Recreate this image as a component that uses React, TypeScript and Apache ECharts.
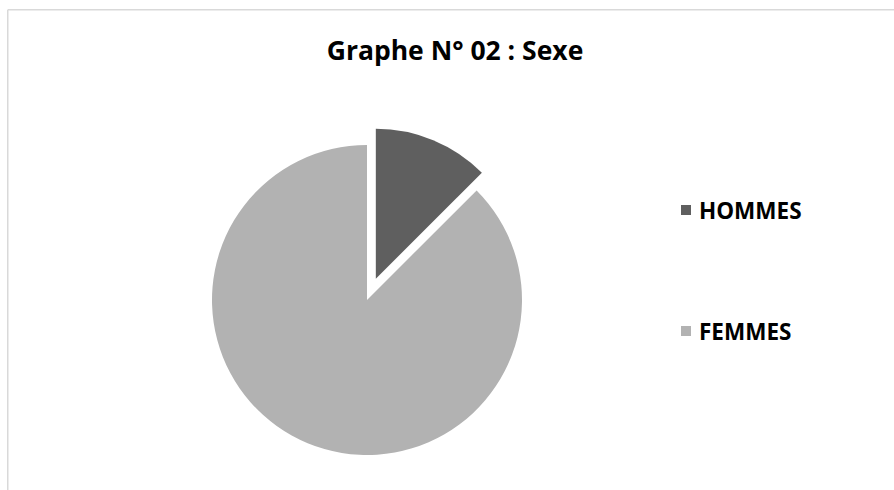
import React, { useEffect, useRef } from "react";
import * as echarts from "echarts";

const categories = ["HOMMES", "FEMMES"];
const values = [5, 35];
const colors = ["#5f5f5f", "#b2b2b2"];
const titleText = "Graphe N° 02 : Sexe";

export default function App() {
  const ref = useRef<HTMLDivElement>(null);
  useEffect(() => {
    if (!ref.current) return;
    const chart = echarts.init(ref.current, undefined, { renderer: "svg" });
    const makeData = (visibleIndex: number) =>
      categories.map((name, i) => ({
        name,
        value: values[i],
        selected: i === 0,
        itemStyle: { color: i === visibleIndex ? colors[i] : "rgba(0,0,0,0)" },
      }));
    chart.setOption({
      animation: false,
      backgroundColor: "#ffffff",
      color: colors,
      legend: {
        orient: "vertical",
        left: 676,
        top: 193,
        itemWidth: 10,
        itemHeight: 10,
        itemGap: 97,
        icon: "rect",
        selectedMode: false,
        data: categories.map((name, i) => ({ name, itemStyle: { color: colors[i] } })),
        textStyle: {
          fontFamily: "Open Sans",
          fontWeight: "bold",
          fontSize: 22.5,
          lineHeight: 24,
          color: "#000000",
          padding: [0, 0, 0, 3],
        },
      },
      graphic: [
        {
          type: "line",
          shape: { x1: 7.75, y1: 9.75, x2: 894, y2: 9.75 },
          style: { stroke: "#d9d9d9", lineWidth: 1.5 },
        },
        {
          type: "line",
          shape: { x1: 7.75, y1: 9.75, x2: 7.75, y2: 490 },
          style: { stroke: "#d9d9d9", lineWidth: 1.5 },
        },
        {
          type: "text",
          x: 455,
          y: 50,
          style: {
            text: titleText,
            textAlign: "center",
            textVerticalAlign: "middle",
            fontFamily: "Open Sans",
            fontWeight: "bold",
            fontSize: 26.5,
            fill: "#000000",
          },
        },
      ],
      series: [
        {
          type: "pie",
          name: "femmes",
          center: [367, 300],
          radius: 155,
          startAngle: 90,
          clockwise: true,
          selectedMode: false,
          label: { show: false },
          labelLine: { show: false },
          emphasis: { disabled: true },
          silent: true,
          data: makeData(1).map((d) => ({ ...d, selected: false })),
        },
        {
          type: "pie",
          name: "hommes",
          center: [367, 300],
          radius: 150,
          startAngle: 90,
          clockwise: true,
          selectedMode: "single",
          selectedOffset: 23,
          label: { show: false },
          labelLine: { show: false },
          emphasis: { disabled: true },
          silent: true,
          data: makeData(0),
        },
      ],
    });
    return () => chart.dispose();
  }, []);
  return (
    <div
      ref={ref}
      style={{ position: "absolute", left: 0, top: 0, width: 894, height: 490 }}
    />
  );
}
